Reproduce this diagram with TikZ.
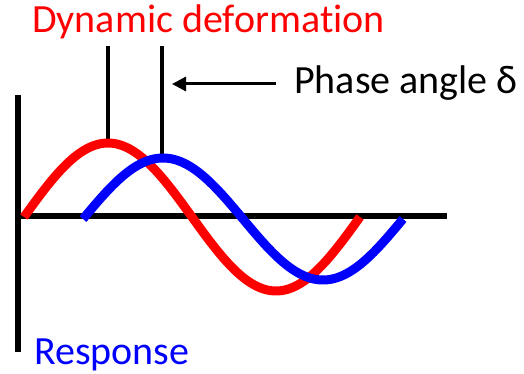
\documentclass[tikz,border=0pt]{standalone}
\usepackage{fontspec}
\setmainfont[Ligatures=NoCommon]{Carlito}
\usetikzlibrary{arrows.meta}
\tikzset{
  axisline/.style={line width=6pt},
  marker/.style={line width=3.5pt},
  wave/.style={line width=9pt, line join=round},
  lbl/.style={inner sep=0pt, anchor=base west, font=\fontsize{40}{44}\selectfont},
}
\begin{document}
\begin{tikzpicture}[x=1pt, y=-1pt]
\useasboundingbox (0,0) rectangle (524,374);
% axes
\coordinate (vtop) at (18,95);
\coordinate (vbot) at (18,352);
\coordinate (hl) at (15,216);
\coordinate (hr) at (447,216);
\draw[axisline] (vtop) -- (vbot);
\draw[axisline] (hl) -- (hr);
% marker lines
\coordinate (m1t) at (108,46);
\coordinate (m1b) at (108,142);
\coordinate (m2t) at (162,46);
\coordinate (m2b) at (162,157);
\draw[marker] (m1t) -- (m1b);
\draw[marker] (m2t) -- (m2b);
% waves
\draw[wave, red] plot[domain=0:360, samples=120] ({24+\x*0.93333}, {217-74*sin(\x)});
\draw[wave, blue] plot[domain=0:360, samples=120] ({83+\x*0.88889}, {219-61*sin(\x)});
% labels
\node[lbl, text=red] (dyn) at (32,33) {Dynamic deforma\kern0pt tion};
\node[lbl, text=blue] (resp) at (34,364) {Response};
\node[lbl] (phase) at (294,94) {Phase angle δ};
\coordinate (arrs) at (276,84);
\coordinate (arre) at (172,84);
\draw[line width=3pt, -{Triangle[length=14pt, width=14pt]}] (arrs) -- (arre);
\end{tikzpicture}
\end{document}
